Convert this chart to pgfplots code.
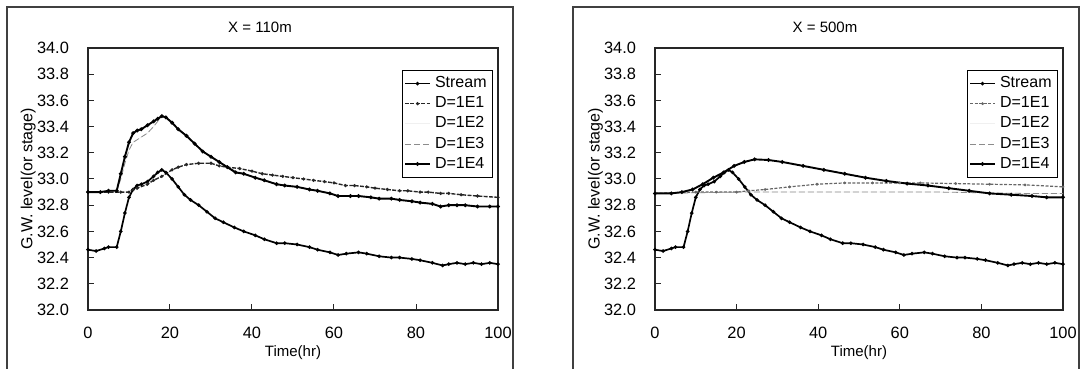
\documentclass[border=0pt]{standalone}
\usepackage{fontspec}
\setmainfont{Liberation Sans}
\usepackage{pgfplots}
\usepackage{pgfplotstable}
\pgfplotsset{compat=1.18}

\pgfplotstableread{
t v
0 32.46
2 32.45
4 32.47
5 32.48
7 32.48
8 32.60
9 32.74
10 32.86
11 32.92
12 32.95
13 32.96
14.5 32.98
16 33.02
17 33.05
18 33.07
19 33.05
20.5 33.00
22 32.94
23.5 32.88
25 32.84
27 32.80
29 32.75
31 32.70
33 32.67
35.7 32.63
38 32.60
40.8 32.57
43 32.54
46 32.51
48 32.51
51 32.50
54 32.48
56 32.46
59 32.44
61 32.42
63 32.43
66 32.44
68 32.43
71 32.41
74 32.40
76 32.40
79 32.39
81 32.38
84 32.36
86.5 32.34
88 32.35
90 32.36
92 32.35
94 32.36
96 32.35
98 32.36
100 32.35
}\stream

\pgfplotstableread{
t v
0 32.90
3 32.90
5 32.91
7 32.91
8 33.04
9 33.17
10 33.28
11 33.35
12 33.37
13 33.38
14.5 33.41
16 33.44
17 33.46
18 33.48
19 33.47
20.5 33.43
22 33.38
24 33.33
26 33.27
28 33.21
30 33.17
32 33.13
34 33.09
36 33.05
38 33.04
40.8 33.01
43 32.99
46 32.96
48 32.95
51 32.94
54 32.92
56 32.91
59 32.89
61 32.87
64 32.87
66 32.87
69 32.86
71 32.85
74 32.85
76 32.84
79 32.83
81 32.82
84 32.81
86 32.79
88 32.80
90 32.80
92 32.80
95 32.79
98 32.79
100 32.79
}\leftEfour

\pgfplotstableread{
t v
0 32.90
3 32.90
5 32.91
7 32.91
8 33.00
9 33.12
10 33.22
11 33.28
12 33.30
13 33.32
14.5 33.35
16 33.40
17 33.44
18 33.48
19 33.47
20.5 33.43
22 33.38
24 33.33
26 33.27
28 33.21
30 33.17
32 33.13
34 33.09
36 33.06
38 33.04
40.8 33.01
43 32.99
46 32.96
48 32.95
51 32.94
54 32.92
56 32.91
59 32.89
61 32.87
64 32.87
66 32.87
69 32.86
71 32.85
74 32.85
76 32.84
79 32.83
81 32.82
84 32.81
86 32.79
88 32.80
90 32.80
92 32.80
95 32.79
98 32.79
100 32.79
}\leftEthree

\pgfplotstableread{
t v
0 32.90
5 32.90
8 32.90
10 32.90
11 32.92
12 32.93
14.5 32.96
16 32.99
18 33.02
20.5 33.07
22 33.09
24 33.11
27 33.12
30 33.12
32 33.10
34 33.09
37 33.08
40 33.06
42.5 33.04
45 33.03
47.5 33.02
50 33.01
52.6 33.00
55 32.99
57.7 32.98
60 32.97
62.8 32.95
65 32.95
68 32.94
70 32.93
73 32.92
76 32.91
78 32.91
81 32.90
83 32.90
86 32.89
88 32.89
91 32.88
95 32.87
100 32.86
}\leftEone

\pgfplotstableread{
t v
0 32.89
4 32.89
6.6 32.90
9.2 32.92
11.7 32.96
14.3 33.01
16.8 33.05
19.4 33.10
21.9 33.13
24.4 33.15
27.8 33.145
31.2 33.13
36.3 33.10
41.4 33.07
46.5 33.04
51.6 33.01
56.7 32.985
61.8 32.965
66.9 32.95
72 32.93
77 32.91
82 32.89
87.3 32.88
92.4 32.87
96 32.86
100 32.86
}\rightEfour

\pgfplotstableread{
t v
0 32.89
10 32.90
15 32.90
20 32.90
23 32.91
27 32.92
33 32.94
39.7 32.96
46.5 32.97
53.3 32.97
60 32.97
65 32.97
73.7 32.965
82 32.96
90.7 32.955
100 32.94
}\rightEone

\pgfplotstableread{
t v
0 32.89
10 32.895
20 32.90
30 32.90
40 32.90
50 32.90
60 32.90
70 32.90
80 32.895
90 32.89
100 32.89
}\rightEthree

\pgfplotsset{
  gw/.style={
    scale only axis, width=205pt, height=131pt, anchor=south west,
    xmin=0, xmax=100, ymin=32, ymax=34,
    xtick={0,20,40,60,80,100},
    ytick={32,32.2,32.4,32.6,32.8,33,33.2,33.4,33.6,33.8,34},
    /pgf/number format/assume math mode=true,
    yticklabel style={/pgf/number format/fixed, /pgf/number format/fixed zerofill, /pgf/number format/precision=1, xshift=-6pt},
    xticklabel style={yshift=-5pt},
    tick label style={font=\fontsize{8.2}{9}\selectfont},
    tick align=inside, tick pos=left, major tick length=3pt,
    axis line style={black!85, line width=0.6pt},
    every tick/.style={black!85, line width=0.5pt},
    ylabel={G.W. level(or stage)},
    xlabel={Time(hr)},
    ylabel style={at={(axis description cs:-0.146,0.5)}, anchor=center, font=\fontsize{8}{9}\selectfont},
    xlabel style={at={(axis description cs:0.5,-0.162)}, anchor=center, font=\fontsize{7.5}{8}\selectfont},
    legend style={at={(0.988,0.916)}, anchor=north east, font=\fontsize{8}{9}\selectfont, draw=black, line width=0.5pt, inner sep=1pt, row sep=-1pt, cells={anchor=west}},
    legend image code/.code={\draw[mark repeat=2,mark phase=2,#1] plot coordinates {(0cm,0cm) (0.22cm,0cm) (0.44cm,0cm)};},
  },
  sStream/.style={black, line width=0.85pt, mark=*, mark size=0.4pt},
  sEone/.style={black!85, line width=0.7pt, dash pattern=on 2pt off 0.7pt, mark=*, mark size=0.4pt, mark options={solid}},
  sEoneR/.style={black!60, line width=0.6pt, dash pattern=on 1.5pt off 0.8pt, mark=*, mark size=0.35pt, mark options={solid}},
  sEtwo/.style={black, opacity=0.06, line width=0.4pt},
  sEthree/.style={black!45, line width=0.4pt, dash pattern=on 3pt off 1.5pt},
  sEfour/.style={black, line width=0.95pt, mark=*, mark size=0.4pt},
}

\begin{document}
\begin{tikzpicture}
\useasboundingbox (0,0) rectangle (541pt,184.5pt);
\draw[black!75, line width=0.6pt] (3.5pt,-2pt) -- (3.5pt,181pt) -- (256.5pt,181pt) -- (256.5pt,-2pt);
\draw[black!75, line width=0.6pt] (286.5pt,-2pt) -- (286.5pt,181pt) -- (539.5pt,181pt) -- (539.5pt,-2pt);
\node[font=\fontsize{7.5}{9}\selectfont] at (130pt,171pt) {X = 110m};
\node[font=\fontsize{7.5}{9}\selectfont] at (412.5pt,171pt) {X = 500m};

\begin{axis}[gw, at={(44pt,29.5pt)}]
\addplot[sStream] table[x=t,y=v] {\stream};
\addlegendentry{Stream}
\addplot[sEone] table[x=t,y=v] {\leftEone};
\addlegendentry{D=1E1}
\addplot[sEtwo] table[x=t,y=v] {\leftEthree};
\addlegendentry{D=1E2}
\addplot[sEthree] table[x=t,y=v] {\leftEthree};
\addlegendentry{D=1E3}
\addplot[sEfour] table[x=t,y=v] {\leftEfour};
\addlegendentry{D=1E4}
\end{axis}

\begin{axis}[gw, at={(327.5pt,29.5pt)}, width=204pt]
\addplot[sStream] table[x=t,y=v] {\stream};
\addlegendentry{Stream}
\addplot[sEoneR] table[x=t,y=v] {\rightEone};
\addlegendentry{D=1E1}
\addplot[sEtwo] table[x=t,y=v] {\rightEthree};
\addlegendentry{D=1E2}
\addplot[sEthree] table[x=t,y=v] {\rightEthree};
\addlegendentry{D=1E3}
\addplot[sEfour] table[x=t,y=v] {\rightEfour};
\addlegendentry{D=1E4}
\end{axis}
\end{tikzpicture}
\end{document}
